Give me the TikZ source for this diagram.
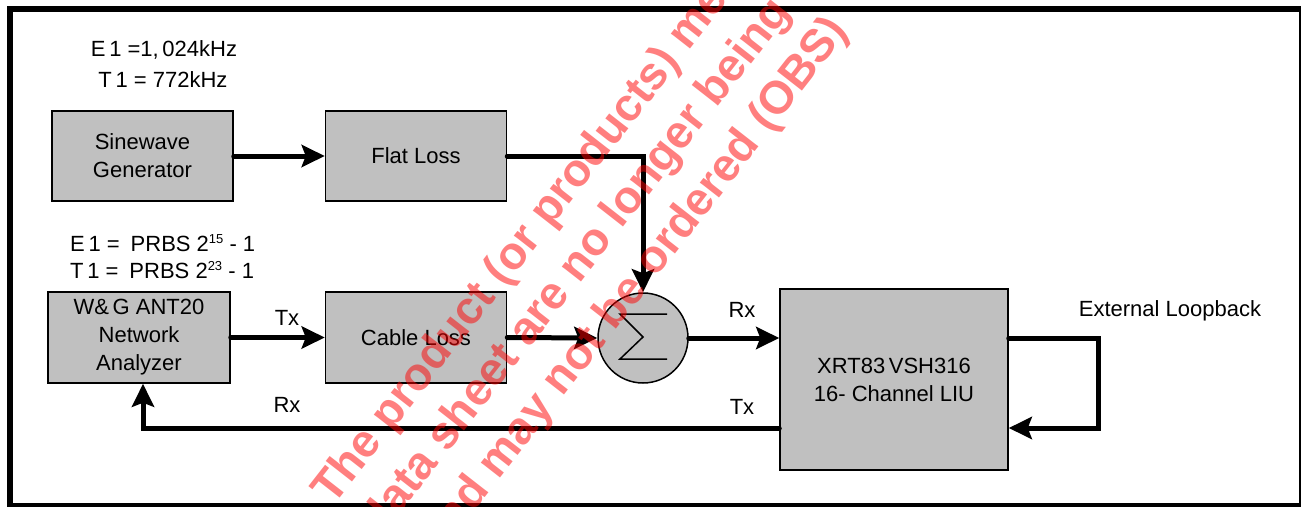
\documentclass[tikz,border=0pt]{standalone}
\usepackage{fontspec}
\setmainfont{Liberation Sans}
\usetikzlibrary{arrows.meta,calc}
\definecolor{boxgray}{HTML}{C0C0C0}
\newcommand{\supnum}[1]{\raisebox{8pt}{\fontsize{13}{13}\selectfont #1}}
\tikzset{
  txt/.style={font=\fontsize{22}{28}\selectfont, inner sep=0pt, align=center},
  blk/.style={txt, draw=black, line width=1.5pt, fill=boxgray},
  conn/.style={line width=5pt, line cap=round, line join=miter,
    -{Stealth[length=23pt,width=22pt,inset=4pt]}},
  wm/.style={font=\fontsize{46}{50}\selectfont\bfseries, text=red, text opacity=0.5,
    inner sep=0pt, rotate=52, anchor=base west}
}
\begin{document}
\begin{tikzpicture}[x=1pt,y=-1pt]
\useasboundingbox (0,0) rectangle (1301,506);
\clip (0,0) rectangle (1301,506);
\fill[white] (0,0) rectangle (1301,506);
% frame
\draw[line width=6pt] (10,9) rectangle (1302,506);

% blocks
\node[blk, minimum width=181pt, minimum height=90pt] (sine) at (142.5,156) {Sinewave\\Generator};
\node[blk, minimum width=181pt, minimum height=90pt] (flat) at (416,156) {Flat Loss};
\node[blk, minimum width=182pt, minimum height=91pt] (ant) at (139,337.5) {W\&\,G ANT20\\Network\\Analyzer};
\node[blk, minimum width=181pt, minimum height=91pt] (cable) at (416,337.5) {Cable Loss};
\node[blk, minimum width=228pt, minimum height=181pt] (xrt) at (894,379.5) {XRT83\,VSH316\\16- Channel LIU};
\node[draw=black, line width=1.5pt, fill=boxgray, circle, minimum size=90pt, inner sep=0pt] (sum) at (643,338) {};
\draw[line width=1.5pt, line join=miter] (667,314) -- (620,314) -- (643,337) -- (620,359) -- (667,359);

% texts
\node[txt] (f1) at (164,50) {E\,1 =1,\,024kHz};
\node[txt] (f2) at (163,80) {T\,1 = 772kHz};
\node[txt, anchor=west] (p1) at (70,243) {E\,1 =\enspace PRBS 2\supnum{15} - 1};
\node[txt, anchor=west] (p2) at (70,270) {T\,1 =\enspace PRBS 2\supnum{23} - 1};
\node[txt] (tx1) at (287,318) {Tx};
\node[txt] (rx1) at (287,405) {Rx};
\node[txt] (rx2) at (742,310) {Rx};
\node[txt] (tx2) at (742,407) {Tx};
\node[txt] (ext) at (1170,311) {External Loopback};

% connectors
\coordinate (loopTop) at (1098,338);
\coordinate (loopBot) at (1098,428);
\draw[conn] (sine.east) -- (flat.west);
\draw[conn] (flat.east) -| (sum.north);
\draw[conn] (ant.east) -- (cable.west);
\draw[conn] (cable.east) -- (sum.west);
\draw[conn] (sum.east) -- (sum.east -| xrt.west);
\draw[conn] (sum.east -| xrt.east) -- (loopTop) -- (loopBot) -- (loopBot -| xrt.east);
\draw[conn] (loopBot -| xrt.west) -| ([xshift=4pt]ant.south);

% watermark
\node[wm] (w1) at (333,507) {The product (or products) mentioned in this};
\node[wm] (w2) at (381,538) {data sheet are no longer being manufactured};
\node[wm] (w3) at (440,555) {and may not be ordered (OBS)};
\end{tikzpicture}
\end{document}
